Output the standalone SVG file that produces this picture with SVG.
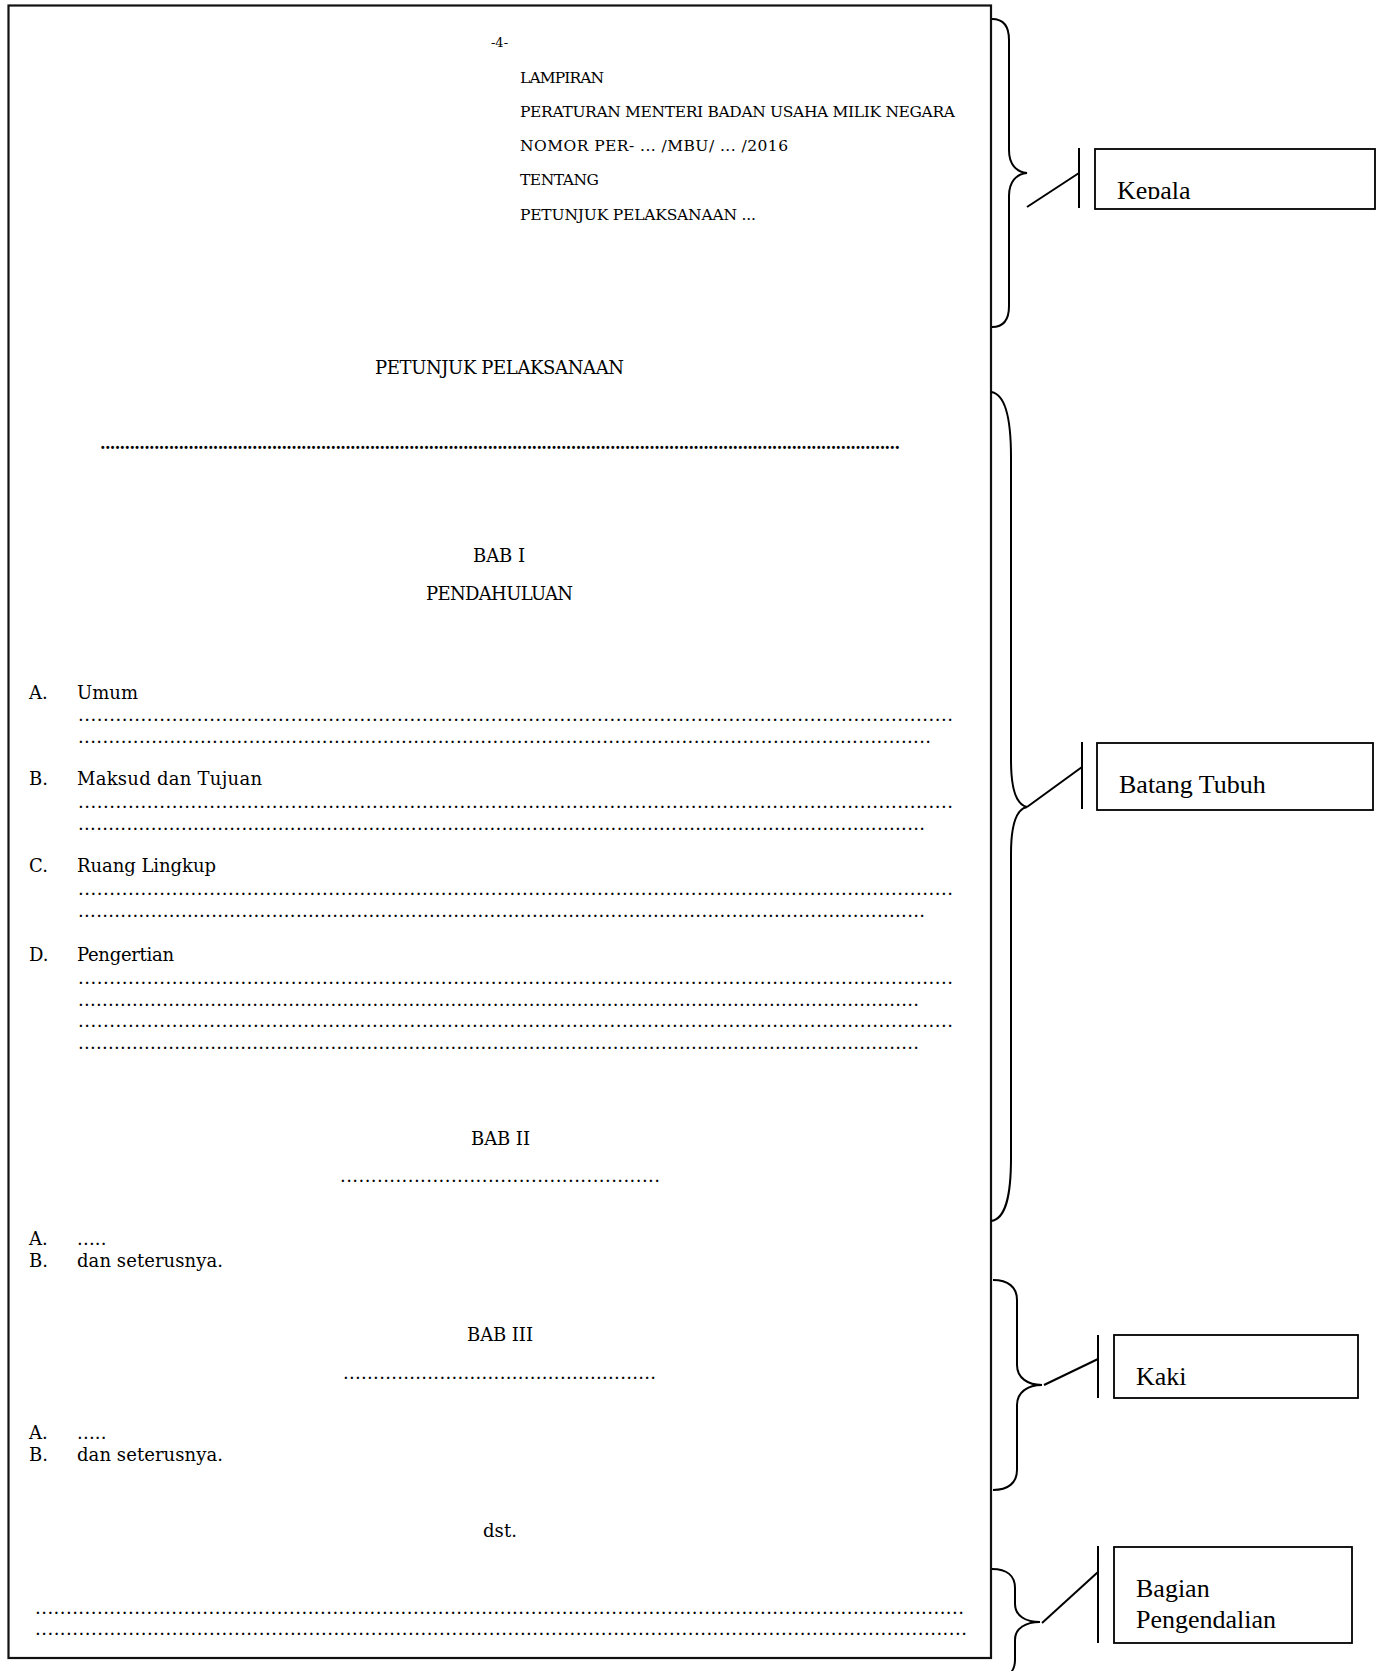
<svg xmlns="http://www.w3.org/2000/svg" width="1379" height="1671" viewBox="0 0 1379 1671">
  <style>
    .doc { font-family: "DejaVu Serif", "Liberation Serif", serif; fill: #000; }
    .hdr { font-size: 15.5px; }
    .body { font-size: 18px; }
    .small { font-size: 13px; }
    .dots { font-size: 18px; }
    .bold-dots { font-size: 16px; font-weight: bold; }
    .mid { text-anchor: middle; }
    .label { font-family: "Liberation Serif", "Times New Roman", serif; font-size: 26px; fill: #000; }
    .box { fill: #fff; stroke: #000; stroke-width: 1.8; }
    .brace { fill: none; stroke: #000; stroke-width: 2; }
    .lead { fill: none; stroke: #000; stroke-width: 2; }
  </style>
  <defs>
    <clipPath id="clip-kepala">
      <rect x="1095" y="149" width="280" height="50"/>
    </clipPath>
  </defs>

  <rect width="1379" height="1671" fill="#fff"/>

  <!-- document page -->
  <g id="page">
    <rect x="8.5" y="5.5" width="982.5" height="1652.5" fill="#fff" stroke="#111" stroke-width="2.2"/>

    <!-- letterhead block -->
    <text class="doc small mid" x="499.5" y="46.5">-4-</text>
    <text class="doc hdr" x="520" y="83" textLength="84">LAMPIRAN</text>
    <text class="doc hdr" x="520" y="116.5" textLength="435">PERATURAN MENTERI BADAN USAHA MILIK NEGARA</text>
    <text class="doc hdr" x="520" y="151" textLength="268">NOMOR PER- ... /MBU/ ... /2016</text>
    <text class="doc hdr" x="520" y="185" textLength="79">TENTANG</text>
    <text class="doc hdr" x="520" y="220" textLength="236">PETUNJUK PELAKSANAAN ...</text>

    <!-- title -->
    <text class="doc body" x="375" y="374" textLength="249">PETUNJUK PELAKSANAAN</text>
    <text class="doc bold-dots" x="100" y="448.5" textLength="800">...................................................................................................................................................................</text>

    <!-- BAB I -->
    <text class="doc body" x="473" y="562" textLength="52">BAB I</text>
    <text class="doc body" x="426" y="600" textLength="147">PENDAHULUAN</text>

    <text class="doc body" x="29" y="699">A.</text>
    <text class="doc body" x="77" y="699" textLength="61">Umum</text>
    <text class="doc dots" x="78" y="721" textLength="875">............................................................................................................................................</text>
    <text class="doc dots" x="78" y="743" textLength="853">............................................................................................................................................</text>

    <text class="doc body" x="29" y="785">B.</text>
    <text class="doc body" x="77" y="785" textLength="185">Maksud dan Tujuan</text>
    <text class="doc dots" x="78" y="808" textLength="875">............................................................................................................................................</text>
    <text class="doc dots" x="78" y="829.5" textLength="847">............................................................................................................................................</text>

    <text class="doc body" x="29" y="872">C.</text>
    <text class="doc body" x="77" y="872" textLength="139">Ruang Lingkup</text>
    <text class="doc dots" x="78" y="895" textLength="875">............................................................................................................................................</text>
    <text class="doc dots" x="78" y="916.5" textLength="847">............................................................................................................................................</text>

    <text class="doc body" x="29" y="961">D.</text>
    <text class="doc body" x="77" y="961" textLength="97">Pengertian</text>
    <text class="doc dots" x="78" y="984" textLength="875">............................................................................................................................................</text>
    <text class="doc dots" x="78" y="1005.5" textLength="841">............................................................................................................................................</text>
    <text class="doc dots" x="78" y="1027" textLength="875">............................................................................................................................................</text>
    <text class="doc dots" x="78" y="1048.5" textLength="841">............................................................................................................................................</text>

    <!-- BAB II -->
    <text class="doc body" x="471" y="1145" textLength="59">BAB II</text>
    <text class="doc dots" x="340" y="1182" textLength="320">....................................................</text>
    <text class="doc body" x="29" y="1245">A.</text>
    <text class="doc body" x="77" y="1245" textLength="29.5">.....</text>
    <text class="doc body" x="29" y="1267">B.</text>
    <text class="doc body" x="77" y="1267" textLength="146">dan seterusnya.</text>

    <!-- BAB III -->
    <text class="doc body" x="467" y="1341" textLength="66">BAB III</text>
    <text class="doc dots" x="343" y="1379" textLength="313">....................................................</text>
    <text class="doc body" x="29" y="1439">A.</text>
    <text class="doc body" x="77" y="1439" textLength="29.5">.....</text>
    <text class="doc body" x="29" y="1461">B.</text>
    <text class="doc body" x="77" y="1461" textLength="146">dan seterusnya.</text>

    <text class="doc body" x="483" y="1537" textLength="34">dst.</text>

    <!-- closing block -->
    <text class="doc dots" x="35" y="1614" textLength="929">......................................................................................................................................................</text>
    <text class="doc dots" x="35" y="1634.5" textLength="932">......................................................................................................................................................</text>
  </g>

  <!-- braces, leader lines and tick bars -->
  <g id="connectors">
    <path class="brace" d="M992,19 C1003,19 1009,26 1009,40 L1009,150 C1009,164 1016,172 1027,173 C1016,174 1009,182 1009,196 L1009,306 C1009,320 1003,327 992,327"/>
    <line class="lead" x1="1027" y1="207" x2="1079" y2="173"/>
    <line class="lead" x1="1079" y1="148" x2="1079" y2="208"/>

    <path class="brace" d="M991,392 C1006,394 1011,420 1011,457 L1011,760 C1011,790 1017,805 1027,807 C1017,809 1011,824 1011,854 L1011,1158 C1011,1195 1006,1219 991,1221"/>
    <line class="lead" x1="1027" y1="807" x2="1082" y2="767"/>
    <line class="lead" x1="1082" y1="742" x2="1082" y2="809"/>

    <path class="brace" d="M993,1280 C1008,1280 1017,1287 1017,1300 L1017,1365 C1017,1378 1028,1385 1042,1385 C1028,1385 1017,1392 1017,1405 L1017,1470 C1017,1483 1008,1490 993,1490"/>
    <line class="lead" x1="1044" y1="1385" x2="1098" y2="1359"/>
    <line class="lead" x1="1098" y1="1335" x2="1098" y2="1398"/>

    <path class="brace" d="M992,1569 C1007,1569 1015,1576 1015,1588 L1015,1604 C1015,1616 1026,1622 1040,1622 C1026,1622 1015,1628 1015,1640 L1015,1660 C1015,1672 1007,1679 992,1679"/>
    <line class="lead" x1="1042" y1="1623" x2="1098" y2="1572"/>
    <line class="lead" x1="1098" y1="1546" x2="1098" y2="1643"/>
  </g>

  <!-- section labels -->
  <g id="kepala">
    <rect class="box" x="1095" y="149" width="280" height="60"/>
    <text class="label" x="1117" y="198.5" clip-path="url(#clip-kepala)">Kepala</text>
  </g>
  <g id="batang-tubuh">
    <rect class="box" x="1097" y="743" width="276" height="67"/>
    <text class="label" x="1119" y="793">Batang Tubuh</text>
  </g>
  <g id="kaki">
    <rect class="box" x="1114" y="1335" width="244" height="63"/>
    <text class="label" x="1136" y="1385">Kaki</text>
  </g>
  <g id="bagian-pengendalian">
    <rect class="box" x="1114" y="1547" width="238" height="96"/>
    <text class="label" x="1136" y="1597">Bagian</text>
    <text class="label" x="1136" y="1628">Pengendalian</text>
  </g>
</svg>
